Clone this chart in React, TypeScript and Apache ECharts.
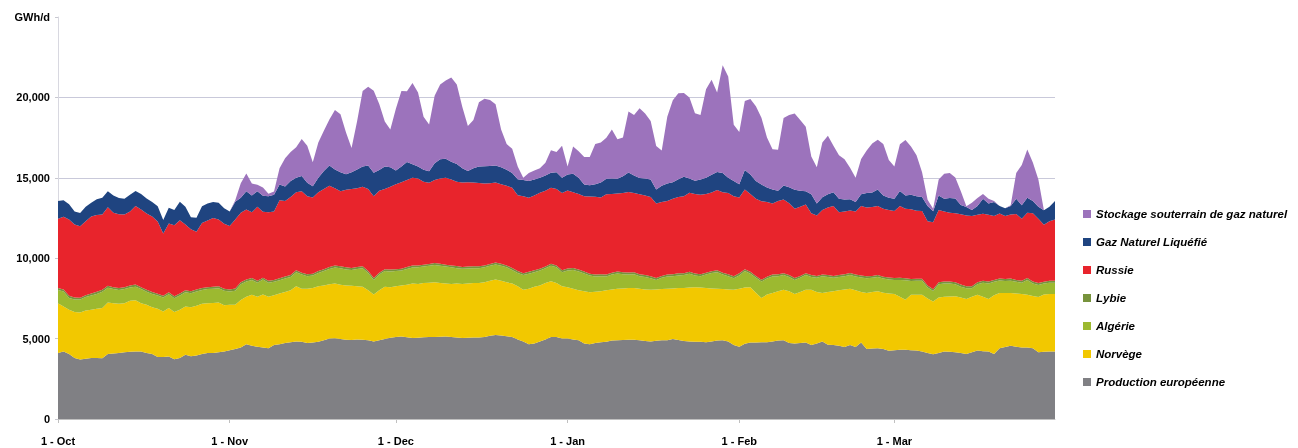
import React, { useEffect, useRef } from "react";
import * as echarts from "echarts";

// ---- categories (daily, 1 Oct -> 30 Mar) ----
const months = ["Oct", "Nov", "Dec", "Jan", "Feb", "Mar"];
const monthDays = [31, 30, 31, 31, 28, 30];
const categories: string[] = [];
months.forEach((m, i) => {
  for (let d = 1; d <= monthDays[i]; d++) categories.push(`${d} - ${m}`);
});

// ---- series values, GWh/d ----
const production = [
  4100,4200,4050,3800,3700,3750,3800,3800,3780,4050,
  4080,4100,4150,4180,4200,4200,4100,4050,3850,3850,
  3880,3720,3800,4000,3900,3950,4050,4100,4100,4150,
  4200,4280,4350,4450,4650,4550,4500,4450,4400,4600,
  4650,4720,4780,4820,4800,4720,4750,4800,4900,5000,
  5020,4980,4930,4920,4950,4930,4900,4820,4900,4970,
  5050,5100,5130,5080,5030,5050,5080,5100,5100,5120,
  5130,5100,5070,5030,5050,5070,5070,5100,5180,5220,
  5200,5150,5100,4950,4820,4650,4700,4820,4950,5100,
  5100,5000,5000,4950,4900,4700,4650,4720,4780,4800,
  4880,4900,4920,4930,4930,4900,4850,4820,4860,4900,
  4900,4970,4920,4850,4820,4800,4800,4780,4820,4880,
  4900,4820,4600,4500,4680,4750,4750,4780,4780,4820,
  4880,4900,4720,4700,4720,4750,4600,4700,4820,4620,
  4600,4550,4470,4600,4480,4750,4350,4380,4400,4350,
  4240,4270,4300,4300,4280,4260,4200,4100,4030,4100,
  4200,4180,4150,4100,4050,4150,4260,4220,4200,4050,
  4400,4480,4550,4500,4450,4450,4400,4150,4180,4200,
  4200,
];
const norvege = [
  3100,2800,2750,2850,2930,3000,3000,3050,3120,3200,
  3120,3070,3050,3170,3180,3000,3000,2900,3000,2840,
  3020,2930,3000,3000,3050,3100,3120,3100,3120,3100,
  2880,2820,2750,2950,2950,3180,3100,3300,3200,3100,
  3150,3180,3220,3430,3300,3380,3400,3450,3400,3380,
  3400,3370,3370,3360,3300,3290,3100,2930,3100,3250,
  3150,3150,3170,3270,3390,3350,3370,3380,3400,3330,
  3290,3300,3350,3370,3370,3380,3390,3400,3420,3450,
  3400,3350,3320,3300,3220,3450,3520,3480,3500,3470,
  3350,3250,3200,3150,3100,3250,3230,3200,3160,3200,
  3170,3200,3200,3220,3220,3200,3200,3220,3200,3180,
  3200,3150,3230,3300,3360,3400,3380,3370,3300,3220,
  3180,3240,3440,3600,3500,3450,3100,2740,2970,3010,
  3070,3140,3230,3070,3180,3290,3440,3200,3010,3280,
  3340,3450,3580,3500,3520,3150,3480,3520,3540,3500,
  3560,3500,3300,3120,3450,3470,3530,3400,3280,3450,
  3400,3440,3480,3450,3410,3450,3470,3380,3260,3650,
  3430,3350,3280,3300,3330,3280,3250,3440,3570,3570,
  3570,
];
const algerie = [
  830,930,730,780,800,830,880,930,1020,920,
  880,860,880,830,850,880,820,830,830,860,
  860,860,880,880,870,880,860,880,880,880,
  900,830,880,980,950,920,880,930,880,830,
  830,830,830,880,880,780,780,830,900,950,
  1000,1030,1000,990,1080,1160,1080,900,980,980,
  980,950,930,980,1000,1030,1030,1050,1080,1080,
  1060,1030,960,940,940,930,920,930,930,940,
  930,930,850,830,910,930,910,930,930,960,
  980,880,1030,1170,1180,1100,1050,940,940,860,
  930,950,880,830,850,780,780,720,590,700,
  760,760,780,800,850,730,700,830,960,1030,
  900,820,720,830,1020,830,930,1030,980,1030,
  930,910,880,880,880,910,790,880,1050,930,
  840,830,830,850,860,900,930,880,890,880,
  880,880,1050,1210,850,870,870,680,650,830,
  830,810,750,680,670,530,650,880,970,830,
  780,750,770,730,700,920,780,750,680,710,
  710,
];
const lybie = [
  120,120,130,120,110,120,120,130,120,120,
  120,110,120,120,130,120,120,120,110,120,
  120,120,130,120,120,120,110,120,120,120,
  120,120,130,120,120,120,120,110,120,120,
  120,130,120,120,120,120,110,120,120,120,
  120,120,130,120,120,120,120,120,110,120,
  120,120,120,130,120,120,120,110,120,120,
  120,120,130,120,120,120,120,120,110,120,
  120,120,120,130,120,120,120,120,110,120,
  120,120,130,120,120,120,110,120,120,120,
  120,120,120,130,120,120,120,110,120,120,
  120,120,130,120,120,120,120,120,110,120,
  120,120,120,130,120,120,120,110,120,120,
  120,120,130,120,120,120,120,120,110,120,
  120,120,120,130,120,120,120,110,120,120,
  120,120,130,120,120,120,120,120,110,120,
  120,120,120,130,120,120,120,110,120,120,
  120,120,130,120,120,120,120,120,110,120,
  120,
];
const russie = [
  4300,4520,4750,4550,4450,4600,4800,4780,4680,4880,
  4620,4600,4520,4600,4890,4830,4740,4700,4500,3860,
  4280,4420,4550,4100,3860,3600,4050,4150,4280,4150,
  4050,3950,4300,4320,4360,4080,4600,4100,4260,4250,
  4850,4700,4850,4850,5070,4860,4730,4900,4980,5050,
  4810,4670,4830,4910,4900,4950,5100,5090,5100,4980,
  5150,5280,5370,5400,5460,5400,5150,5050,5160,5300,
  5400,5350,5250,5240,5240,5200,5180,5100,5020,4970,
  4950,4950,4990,4700,4790,4610,4650,4720,4700,4730,
  4750,4800,4850,4710,4700,4690,4800,4840,4780,4990,
  4900,4860,4930,5000,4930,4980,4950,4940,4630,4600,
  4570,4700,4750,4790,4920,4950,4950,4900,4900,4990,
  5000,5050,4980,4710,4950,4850,4800,4880,4650,4420,
  4550,4580,4450,4300,4300,4270,3850,3760,4000,4200,
  4340,3910,3900,3880,3920,4320,4270,4300,4290,4230,
  4200,4160,4470,4330,4350,4230,4210,4000,4160,4490,
  4350,4270,4300,4370,4410,4370,4200,4180,4150,3970,
  4050,3920,3980,4100,3850,4050,4250,3990,3540,3700,
  3800,
];
const gnl = [
  1100,1030,950,800,820,900,850,970,1040,1000,
  1080,1000,980,1050,930,970,940,900,940,840,
  970,950,1150,1100,750,860,1040,1050,1000,1050,
  950,900,1100,940,1140,1050,970,1000,1000,1050,
  990,900,1000,900,940,830,700,900,1120,1270,
  1170,1180,960,1050,1170,1250,1470,1460,1300,1400,
  1200,850,980,1130,850,750,750,720,1040,1200,
  1180,1100,1100,900,700,900,1020,1070,1080,1070,
  1050,1000,920,1000,1000,1040,1000,930,950,940,
  1050,950,1000,1150,1000,730,700,780,920,970,
  950,910,1050,1220,1100,1000,1050,1080,880,1000,
  1100,1030,1100,1210,880,820,950,1000,1100,1120,
  1200,950,940,830,1210,1200,1100,1040,900,880,
  650,870,1000,1180,1000,830,1170,740,800,820,
  860,840,750,710,600,730,900,900,1030,820,
  760,770,930,820,900,900,870,940,690,910,
  800,930,920,580,520,380,540,920,700,880,
  460,480,540,950,850,940,750,750,900,900,
  1150,
];
const stockage = [
  0,0,0,0,0,0,0,0,0,0,
  0,0,0,0,0,0,0,0,0,0,
  0,0,0,0,0,0,0,0,0,0,
  0,0,100,900,1100,750,400,500,150,200,
  1000,1750,1800,1900,2300,2300,1500,2200,2500,2850,
  3700,3600,2600,1500,3000,4700,4900,5100,4100,2800,
  2350,3850,4700,4400,5050,4600,3300,2900,4200,4650,
  4870,5240,4950,3800,2800,3000,4000,4200,4100,3800,
  2350,1600,1500,800,150,500,550,600,800,1400,
  1250,2000,500,1700,1650,1700,1750,2500,2500,2550,
  3050,2450,2400,3800,3750,4350,4050,3650,2700,2200,
  4150,5100,5350,5200,5050,4200,4000,5500,5900,4950,
  6700,6300,3500,3250,4300,4700,4650,4150,3100,2500,
  2550,4200,4500,4750,4400,4000,2350,2250,3400,3650,
  2900,2700,2500,1950,1500,2200,2650,3050,3100,3200,
  2350,2000,2900,3450,3000,2550,1550,400,150,1000,
  1550,1550,1300,850,50,450,500,300,300,50,
  0,0,50,1600,2500,3000,2400,1700,0,0,
  0,
];

const seriesDefs = [
  { name: "Production européenne", data: production, color: "#808084" },
  { name: "Norvège", data: norvege, color: "#f2c800" },
  { name: "Algérie", data: algerie, color: "#9cb930" },
  { name: "Lybie", data: lybie, color: "#77933c" },
  { name: "Russie", data: russie, color: "#e8242c" },
  { name: "Gaz Naturel Liquéfié", data: gnl, color: "#1f4480" },
  { name: "Stockage souterrain de gaz naturel", data: stockage, color: "#9c73bc" },
];

const FONT = '"Liberation Sans Narrow", "Arial Narrow", "Liberation Sans", Arial, sans-serif';

export default function App() {
  const ref = useRef<HTMLDivElement>(null);
  useEffect(() => {
    if (!ref.current) return;
    const chart = echarts.init(ref.current, null, { renderer: "svg" });
    const isFirst = (_i: number, v: string) => v.startsWith("1 - ");
    chart.setOption({
      animation: false,
      grid: { left: 58, right: 243, top: 17, bottom: 29, containLabel: false },
      legend: {
        orient: "vertical",
        left: 1078,
        top: 203,
        itemWidth: 8,
        itemHeight: 8,
        itemGap: 16,
        icon: "rect",
        data: [...seriesDefs].reverse().map((s) => s.name),
        textStyle: { fontFamily: FONT, fontStyle: "italic", fontSize: 11.5, color: "#000", fontWeight: "bold" },
      },
      xAxis: {
        type: "category",
        data: categories,
        boundaryGap: false,
        axisLine: { lineStyle: { color: "#c0c0c0" } },
        axisTick: { interval: isFirst, length: 4, lineStyle: { color: "#c0c0c0" } },
        axisLabel: {
          interval: isFirst,
          margin: 16,
          color: "#000",
          fontFamily: FONT,
          fontWeight: "bold",
          fontSize: 11,
        },
        splitLine: { show: false },
      },
      yAxis: {
        type: "value",
        min: 0,
        max: 25000,
        interval: 5000,
        axisLine: { show: true, lineStyle: { color: "#d8d8e0" } },
        axisTick: { show: true, length: 3, lineStyle: { color: "#c8c8d0" } },
        axisLabel: {
          margin: 8,
          color: "#000",
          fontFamily: FONT,
          fontWeight: "bold",
          fontSize: 11,
          formatter: (v: number) => (v === 25000 ? "GWh/d" : v.toLocaleString("en-US")),
        },
        splitLine: { show: true, showMaxLine: false, lineStyle: { color: "#c9c9da", width: 1 } },
      },
      series: seriesDefs.map((s) => ({
        name: s.name,
        type: "line",
        stack: "total",
        data: s.data,
        symbol: "none",
        lineStyle: { width: 0 },
        itemStyle: { color: s.color },
        areaStyle: { color: s.color, opacity: 1 },
      })),
    });
    return () => chart.dispose();
  }, []);
  return <div ref={ref} style={{ position: "fixed", left: 0, top: 0, width: 1298, height: 448 }} />;
}
